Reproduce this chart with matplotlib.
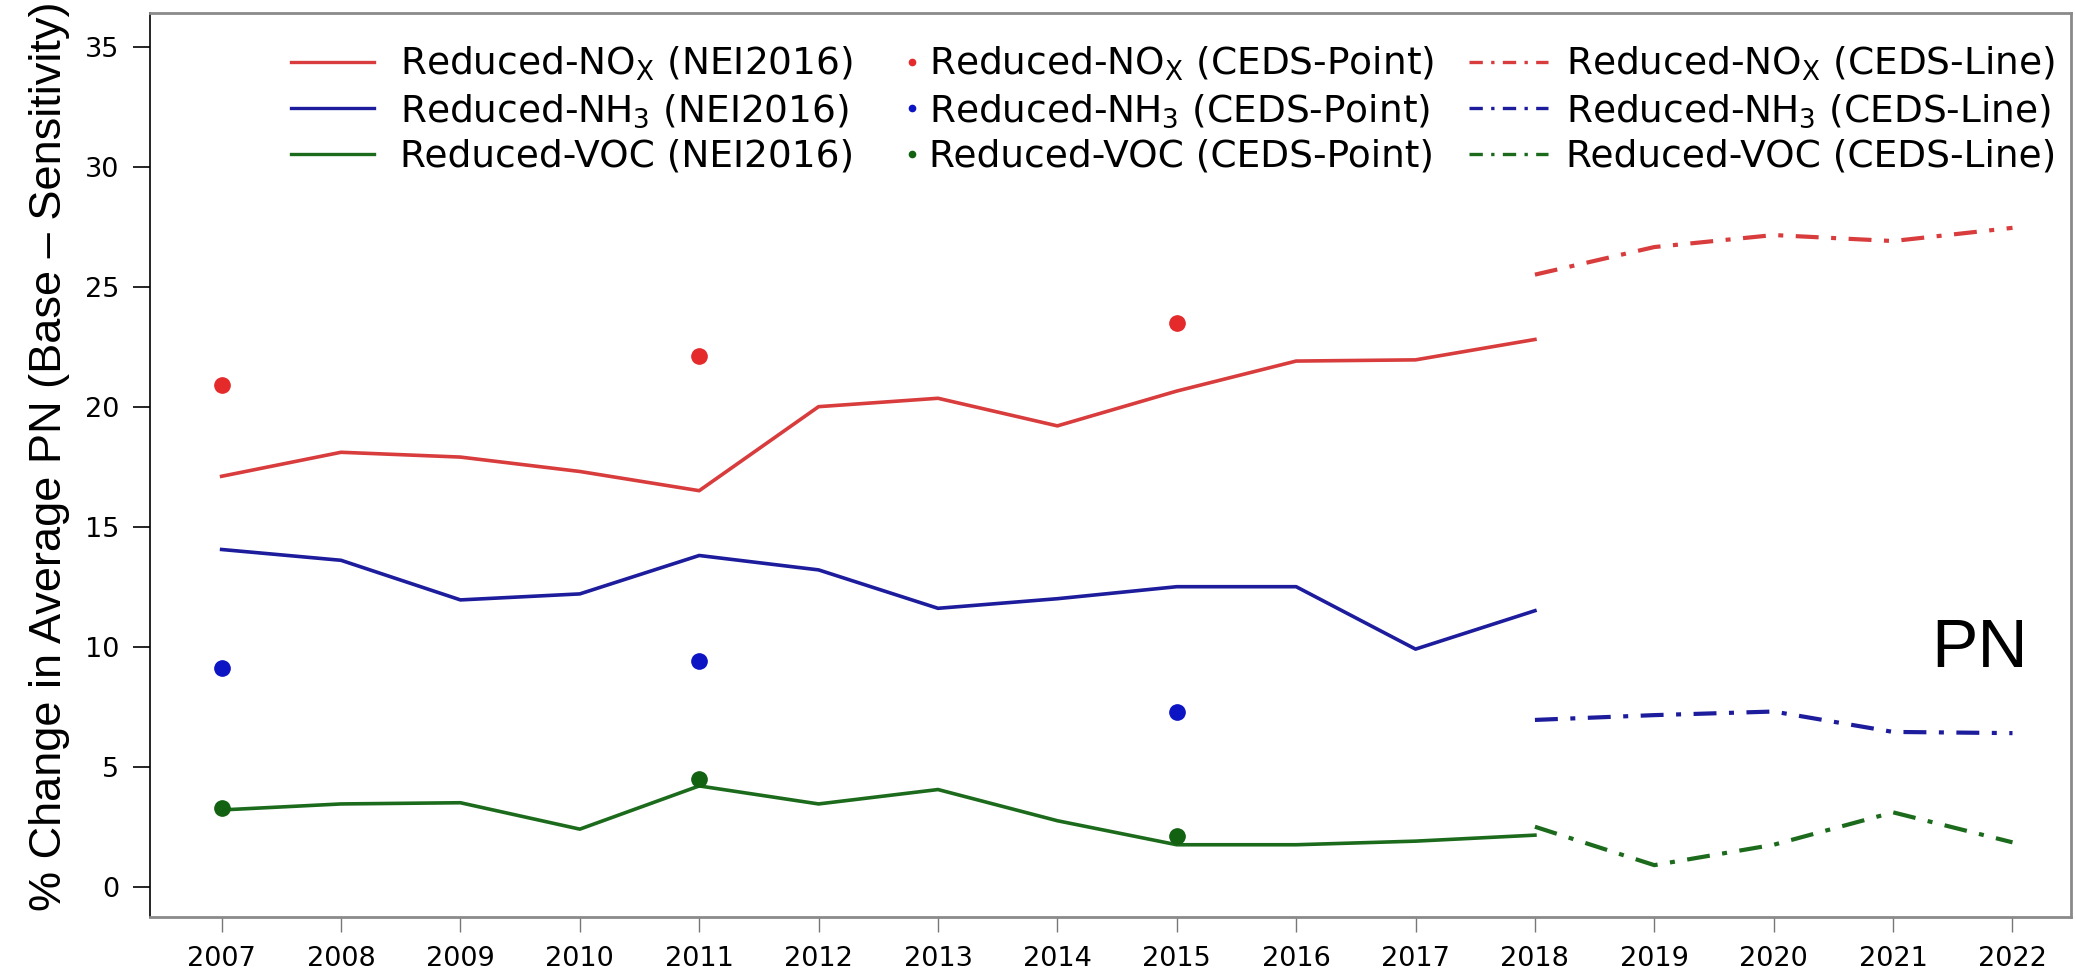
import matplotlib
matplotlib.use("Agg")
import matplotlib.pyplot as plt
from matplotlib.lines import Line2D

plt.rcParams['font.family'] = ['DejaVu Sans']
plt.rcParams['mathtext.default'] = 'regular'

# NEI2016 runs (solid)
years_nei = [2007, 2008, 2009, 2010, 2011, 2012, 2013, 2014, 2015, 2016, 2017, 2018]
nox_nei = [17.1, 18.1, 17.9, 17.3, 16.5, 20.0, 20.35, 19.2, 20.65, 21.9, 21.95, 22.8]
nh3_nei = [14.05, 13.6, 11.95, 12.2, 13.8, 13.2, 11.6, 12.0, 12.5, 12.5, 9.9, 11.5]
voc_nei = [3.2, 3.45, 3.5, 2.4, 4.2, 3.45, 4.05, 2.75, 1.75, 1.75, 1.9, 2.15]

# CEDS point runs
years_pt = [2007, 2011, 2015]
nox_pt = [20.9, 22.1, 23.5]
nh3_pt = [9.1, 9.4, 7.3]
voc_pt = [3.3, 4.5, 2.1]

# CEDS line runs (dash-dot)
years_line = [2018, 2019, 2020, 2021, 2022]
nox_line = [25.5, 26.65, 27.15, 26.9, 27.45]
nh3_line = [6.95, 7.15, 7.3, 6.45, 6.4]
voc_line = [2.5, 0.9, 1.75, 3.1, 1.85]

species = ['NO$_X$', 'NH$_3$', 'VOC']
line_colors = ['#d83c3c', '#1c1c9c', '#1c6b1c']
dot_colors = ['#e42a2a', '#0c14c4', '#126212']
dashdot = (0, (5.5, 3, 1.2, 3))

fig = plt.figure(figsize=(20.75, 9.73), dpi=100)
ax = fig.add_axes([150 / 2075, 1 - 917 / 973, 1921 / 2075, 904 / 973])

nei = [nox_nei, nh3_nei, voc_nei]
pts = [nox_pt, nh3_pt, voc_pt]
lines = [nox_line, nh3_line, voc_line]

h_nei, h_pt, h_line = [], [], []
for i in range(3):
    ax.plot(years_nei, nei[i], color=line_colors[i], lw=2.6, zorder=2)
    ax.plot(years_pt, pts[i], 'o', color=dot_colors[i], ms=11, zorder=3)
    ax.plot(years_line, lines[i], color=line_colors[i], lw=3, linestyle=dashdot, zorder=2)
    h_nei.append(Line2D([], [], color=line_colors[i], lw=2.4))
    h_pt.append(Line2D([], [], color=dot_colors[i], marker='o', ms=4.5, linestyle='none'))
    h_line.append(Line2D([], [], color=line_colors[i], lw=2.4, linestyle=(0, (4, 2.5, 1, 2.5))))

ax.set_xlim(2006.4, 2022.49)
ax.set_ylim(-1.26, 36.4)
ax.set_xticks(years_nei + years_line[1:])
ax.set_yticks(range(0, 36, 5))

ax.tick_params(axis='y', length=12, width=1.2, pad=10, labelsize=19.5, color='black')
ax.tick_params(axis='x', length=11, width=1.0, pad=10, labelsize=19.5, color='#777777')

ax.spines['left'].set_color('black')
ax.spines['left'].set_linewidth(1.2)
for s in ['top', 'right', 'bottom']:
    ax.spines[s].set_color('#8a8a8a')
    ax.spines[s].set_linewidth(2)

fs = 27
common = dict(frameon=False, fontsize=fs, loc='upper left', borderpad=0,
              borderaxespad=0, labelspacing=0.24, bbox_transform=fig.transFigure)
lab_nei = ['Reduced-%s (NEI2016)' % s for s in species]
lab_pt = ['Reduced-%s (CEDS-Point)' % s for s in species]
lab_line = ['Reduced-%s (CEDS-Line)' % s for s in species]

top = 1 - 45 / 973
leg1 = ax.legend(h_nei, lab_nei, handlelength=2.2, handletextpad=0.7,
                 bbox_to_anchor=(291 / 2075, top), **common)
ax.add_artist(leg1)
leg2 = ax.legend(h_pt, lab_pt, handlelength=0.5, handletextpad=0.2,
                 bbox_to_anchor=(903 / 2075, top), **common)
ax.add_artist(leg2)
ax.legend(h_line, lab_line, handlelength=2.1, handletextpad=0.5,
          bbox_to_anchor=(1469 / 2075, top), **common)

fig.text(50 / 2075, 0.531, '% Change in Average PN (Base \u2013 Sensitivity)',
         rotation=90, ha='center', va='center', fontsize=32.5, family='Liberation Sans')
fig.text(1980 / 2075, 1 - 667 / 973, 'PN', ha='center', va='baseline',
         fontsize=50, family='Liberation Sans')

fig.savefig('out.png', dpi=100)
